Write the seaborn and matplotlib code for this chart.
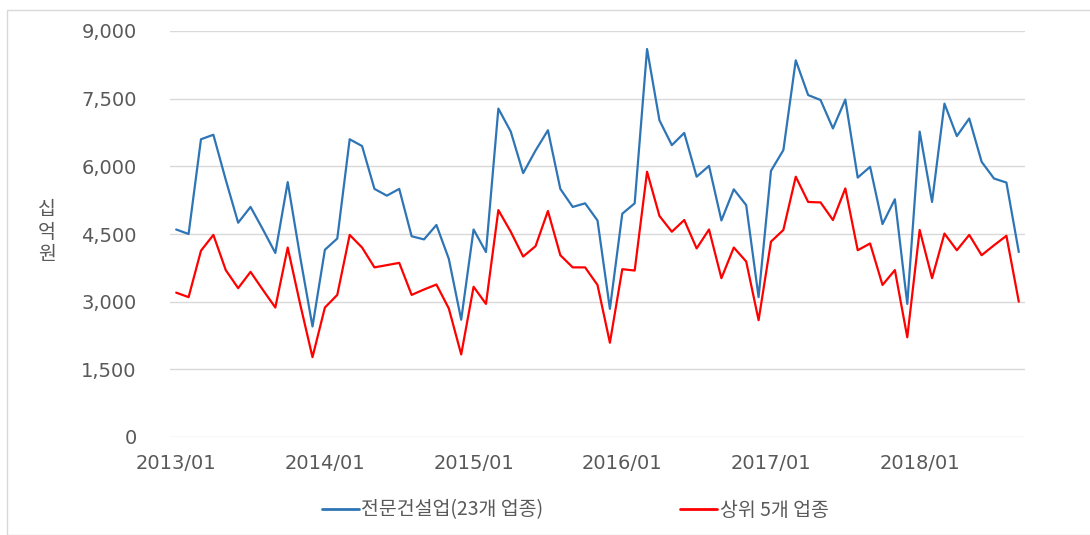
import numpy as np
import pandas as pd
import matplotlib
matplotlib.use('Agg')
import matplotlib.pyplot as plt
import seaborn as sns
from matplotlib.patches import Rectangle

# --- Data (monthly, 2013/01 - 2018/09, 십억원) ---
start_month = '2013-01'
total_all = [
    4600, 4500, 6600, 6700, 5700, 4750, 5100, 4600, 4080, 5650, 4000, 2450,
    4150, 4400, 6600, 6450, 5500, 5350, 5500, 4450, 4380, 4700, 3950, 2600,
    4600, 4100, 7280, 6770, 5850, 6350, 6800, 5500, 5100, 5180, 4800, 2840,
    4950, 5180, 8600, 7020, 6470, 6740, 5770, 6010, 4800, 5490, 5140, 3100,
    5900, 6360, 8350, 7580, 7470, 6840, 7480, 5750, 5990, 4720, 5270, 2950,
    6770, 5210, 7390, 6670, 7060, 6100, 5730, 5640, 4100,
]
top5 = [
    3200, 3100, 4130, 4480, 3700, 3300, 3660, 3260, 2870, 4200, 2950, 1770,
    2870, 3150, 4480, 4200, 3760, 3810, 3860, 3150, 3270, 3380, 2850, 1830,
    3330, 2950, 5030, 4550, 4000, 4230, 5010, 4030, 3760, 3760, 3370, 2090,
    3720, 3690, 5880, 4900, 4550, 4810, 4180, 4600, 3520, 4200, 3890, 2590,
    4330, 4590, 5770, 5210, 5200, 4810, 5510, 4140, 4290, 3370, 3700, 2210,
    4590, 3520, 4510, 4140, 4480, 4030, 4250, 4460, 3000,
]
series_names = ['전문건설업(23개 업종)', '상위 5개 업종']
y_unit = '십억원'
y_ticks = [0, 1500, 3000, 4500, 6000, 7500, 9000]

months = pd.period_range(start_month, periods=len(total_all), freq='M')
df = pd.DataFrame({
    'idx': np.arange(len(months)),
    series_names[0]: total_all,
    series_names[1]: top5,
}).melt(id_vars='idx', var_name='series', value_name='value')

x_tick_pos = [i for i, m in enumerate(months) if m.month == 1]
x_tick_labels = [months[i].strftime('%Y/%m') for i in x_tick_pos]

# --- Plot ---
sns.set_style('white')
plt.rcParams['font.family'] = ['DejaVu Sans', 'Noto Sans CJK KR']
kr_font = ['Noto Sans CJK KR', 'DejaVu Sans']
text_color = '#595959'
colors = ['#2E75B6', '#FF0000']

fig = plt.figure(figsize=(10.9, 5.35), dpi=100)
ax = fig.add_axes([170 / 1090, 1 - 437 / 535, 855 / 1090, 406 / 535])

sns.lineplot(
    data=df, x='idx', y='value', hue='series',
    palette=colors, linewidth=1.6,
    legend=False, ax=ax,
)

ax.set_xlim(-0.5, len(months) - 0.5)
ax.set_ylim(0, 9000)
ax.set_yticks(y_ticks)
ax.set_yticklabels([f'{v:,}' for v in y_ticks])
ax.set_xticks(x_tick_pos)
ax.set_xticklabels(x_tick_labels)
ax.set_xlabel('')
ax.set_ylabel('')
ax.grid(axis='y', color='#d9d9d9', linewidth=1.0)
ax.set_axisbelow(True)
for s in ax.spines.values():
    s.set_visible(False)
ax.tick_params(axis='y', length=0, pad=24, labelsize=14, labelcolor=text_color)
ax.tick_params(axis='x', length=0, pad=12, labelsize=14, labelcolor=text_color)

# stacked Korean y-axis unit label, one character per row
for k, ch in enumerate(y_unit):
    fig.text(47 / 1090, 1 - (209 + 23 * k) / 535, ch, ha='center', va='center',
             fontsize=14, color=text_color, family=kr_font)

# legend
handles = [plt.Line2D([], [], color=c, linewidth=2) for c in colors]
leg = fig.legend(handles, series_names, loc='center', bbox_to_anchor=(575 / 1090, 1 - 510 / 535),
                 ncol=2, frameon=False, handlelength=1.9, handletextpad=0.15,
                 columnspacing=7.0, prop={'family': kr_font, 'size': 14})
for t in leg.get_texts():
    t.set_color(text_color)

# light chart border
fig.patches.append(Rectangle((7 / 1090, 0), 1.0, 1 - 10 / 535, transform=fig.transFigure,
                             fill=False, edgecolor='#d9d9d9', linewidth=1.0))

fig.savefig('out.png', dpi=100)
